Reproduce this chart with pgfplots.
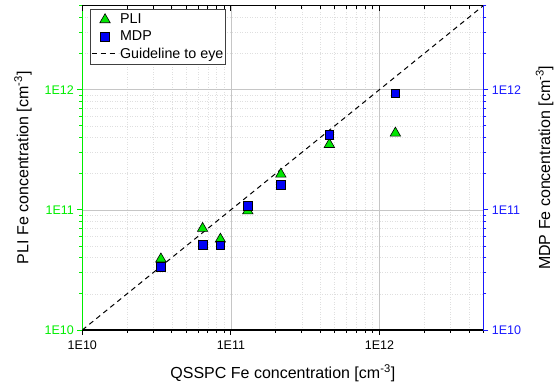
\documentclass[border=0pt]{standalone}
\usepackage{pgfplots}
\pgfplotsset{compat=1.18}
\usepackage{fontspec}
\setmainfont{Liberation Sans}
\definecolor{pgreen}{RGB}{0,238,0}
\definecolor{pblue}{RGB}{25,25,255}
\definecolor{mgreen}{RGB}{0,230,0}
\definecolor{mblue}{RGB}{0,0,245}
\begin{document}
\begin{tikzpicture}[x=1pt,y=1pt]
\begin{axis}[
  at={(0,0)}, anchor=south west,
  scale only axis, width=401pt, height=324.3pt,
  xmode=log, ymode=log,
  xmin=1e10, xmax=5e12, ymin=1e10, ymax=5e12,
  xtick={1e10,1e11,1e12}, ytick={1e10,1e11,1e12},
  minor xtick={2e10,3e10,4e10,5e10,6e10,7e10,8e10,9e10,2e11,3e11,4e11,5e11,6e11,7e11,8e11,9e11,2e12,3e12,4e12,5e12},
  minor ytick={2e10,3e10,4e10,5e10,6e10,7e10,8e10,9e10,2e11,3e11,4e11,5e11,6e11,7e11,8e11,9e11,2e12,3e12,4e12,5e12},
  major tick length=5pt, minor tick length=3pt,
  ticklabel style={font=\fontsize{12.5}{15}\selectfont},
  xticklabel style={yshift=-2pt},
  label style={font=\fontsize{16}{19}\selectfont},
  xlabel style={yshift=-8pt},
  ylabel style={yshift=6pt},
  axis y line*=left, axis x line*=bottom,
  axis line style={line width=1.2pt, -},
  y axis line style={pgreen, line width=1.5pt},
  every y tick/.style={pgreen, line width=0.8pt},
  every minor y tick/.style={pgreen, line width=0.8pt},
  every x tick/.style={black, line width=0.8pt},
  every minor x tick/.style={black, line width=0.8pt},
  yticklabel style={text=pgreen},
  tick align=outside,
  xticklabels={1E10,1E11,1E12}, yticklabels={1E10,1E11,1E12},
  xlabel={QSSPC Fe concentration [cm\textsuperscript{-3}]},
  ylabel={PLI Fe concentration [cm\textsuperscript{-3}]},
  xmajorgrids, ymajorgrids, xminorgrids, yminorgrids,
  major grid style={gray!45, line width=0.6pt},
  minor grid style={gray!25, line width=0.5pt, dotted},
  legend style={at={(0.018,0.989)}, anchor=north west,
    font=\fontsize{14.3}{17}\selectfont, draw=black!75, line width=0.6pt,
    inner xsep=1.2pt, inner ysep=2.5pt, row sep=1.5pt,
    nodes={inner xsep=1pt},
    /tikz/every even column/.append style={column sep=7pt}},
  legend cell align=left,
  legend image code/.code={\draw[mark repeat=2,mark phase=2,#1] plot coordinates {(0pt,0pt) (13.5pt,0pt) (27pt,0pt)};},
]
\addplot[black, line width=1pt, dash pattern=on 5pt off 4pt, forget plot] coordinates {(1e10,1e10) (5e12,5e12)};
\addplot[only marks, mark=triangle*, mark size=6pt, mark options={fill=mgreen, draw=black, line width=0.6pt}] coordinates {
(3.38e10,3.9e10) (6.45e10,7.0e10) (8.5e10,5.7e10) (1.3e11,9.8e10) (2.17e11,1.98e11) (4.6e11,3.5e11) (1.28e12,4.35e11)};
\addlegendentry{PLI}
\addplot[only marks, mark=square*, mark size=4.3pt, mark options={fill=mblue, draw=black, line width=0.6pt}] coordinates {
(3.38e10,3.37e10) (6.45e10,5.1e10) (8.5e10,5.05e10) (1.3e11,1.08e11) (2.17e11,1.62e11) (4.6e11,4.22e11) (1.28e12,9.3e11)};
\addlegendentry{MDP}
\addlegendimage{black, line width=1pt, dash pattern=on 5pt off 4pt}
\addlegendentry{Guideline to eye}
\end{axis}
\begin{axis}[
  at={(0,0)}, anchor=south west,
  scale only axis, width=401pt, height=324.3pt,
  xmode=log, ymode=log,
  xmin=1e10, xmax=5e12, ymin=1e10, ymax=5e12,
  xtick={1e10,1e11,1e12}, ytick={1e10,1e11,1e12},
  minor xtick={2e10,3e10,4e10,5e10,6e10,7e10,8e10,9e10,2e11,3e11,4e11,5e11,6e11,7e11,8e11,9e11,2e12,3e12,4e12,5e12},
  minor ytick={2e10,3e10,4e10,5e10,6e10,7e10,8e10,9e10,2e11,3e11,4e11,5e11,6e11,7e11,8e11,9e11,2e12,3e12,4e12,5e12},
  major tick length=5pt, minor tick length=3pt,
  ticklabel style={font=\fontsize{12.5}{15}\selectfont},
  label style={font=\fontsize{16}{19}\selectfont},
  ylabel style={yshift=-8pt},
  axis y line*=right, axis x line*=top,
  axis line style={line width=1.2pt, -},
  y axis line style={pblue, line width=1.5pt},
  every y tick/.style={pblue, line width=0.8pt},
  every minor y tick/.style={pblue, line width=0.8pt},
  every x tick/.style={black, line width=0.8pt},
  every minor x tick/.style={black, line width=0.8pt},
  yticklabel style={text=pblue},
  xtick align=inside, ytick align=outside,
  xticklabels={}, yticklabels={1E10,1E11,1E12},
  ylabel={MDP Fe concentration [cm\textsuperscript{-3}]},
]
\addplot[draw=none, forget plot] coordinates {(1e10,1e10)};
\end{axis}
\pgfresetboundingbox
\useasboundingbox (-82.3,-60) rectangle (472.7,330);
\end{tikzpicture}
\end{document}
